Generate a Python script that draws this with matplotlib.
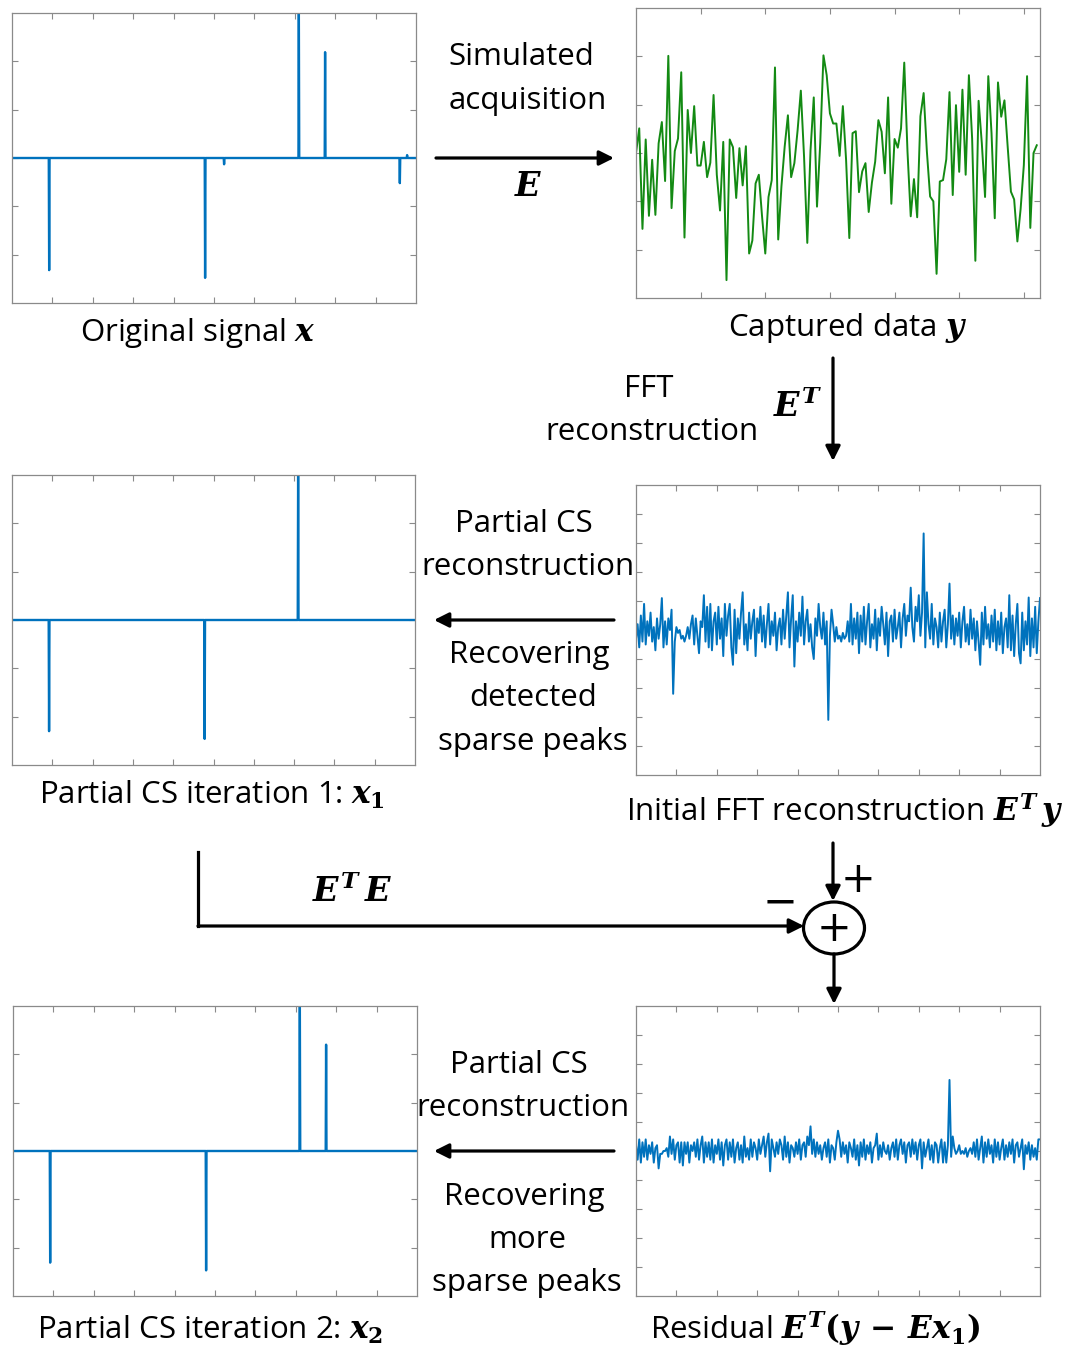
import numpy as np
import matplotlib
matplotlib.use('Agg')
import matplotlib.pyplot as plt
from matplotlib.patches import Ellipse

plt.rcParams['font.family'] = ['Open Sans', 'DejaVu Sans']
plt.rcParams['mathtext.fontset'] = 'custom'
plt.rcParams['mathtext.it'] = 'DejaVu Serif:bold:italic'
plt.rcParams['mathtext.rm'] = 'DejaVu Serif:bold'
plt.rcParams['mathtext.bf'] = 'DejaVu Serif:bold'

# sparse signals: spike positions (sample index out of 1000) and amplitudes
orig_pos = [92, 478, 525, 710, 775, 960, 978]
orig_amp = [-2.32, -2.48, -0.13, 3.0, 2.19, -0.52, 0.06]
iter1_pos = [92, 478, 710]
iter1_amp = [-2.3, -2.46, 3.0]
iter2_pos = [92, 478, 710, 775]
iter2_amp = [-2.31, -2.47, 3.0, 2.2]

# captured data y (125 samples)
captured = [
    0.0, 0.51, -1.57, 0.28, -1.30, -0.14, -1.28, 0.2, 0.64, -0.58,
    2.01, -1.14, 0.04, 0.3, 1.67, -1.75, 0.89, 0.0, 0.97, -0.26,
    -0.26, 0.23, -0.5, -0.2, 1.2, -0.45, -1.19, 0.23, -2.63, 0.28,
    0.12, -0.93, 0.1, -0.67, 0.14, -2.08, -1.81, -0.63, -0.45, -1.31,
    -2.08, -0.91, -0.56, 1.77, -1.79, -0.69, 0.13, 0.78, -0.5, -0.21,
    0.47, 1.29, -0.08, -1.86, 0.06, 1.15, -1.11, 0.2, 2.02, 1.61,
    0.82, 0.61, 0.61, -0.06, 0.97, -0.14, -1.76, 0.41, 0.45, -0.81,
    -0.38, -0.21, -1.22, -0.61, -0.18, 0.68, 0.44, -0.42, 1.15, -1.05,
    0.29, 0.11, 0.51, 1.87, 0.03, -1.31, -0.54, -1.33, 0.76, 1.24,
    0.03, -0.9, -1.0, -2.5, -0.59, -0.56, -0.13, 1.26, -0.87, 0.99,
    -0.39, 1.31, -0.45, 1.61, 0.3, -2.23, 1.08, 0.2, -0.91, 1.59,
    0.41, -1.35, 1.46, 0.75, 1.09, 0.13, -0.8, -0.96, -1.83, -1.16,
    -0.25, 1.59, -1.55, 0.0, 0.16,
]

# initial FFT reconstruction E^T y (every 4th sample)
fft_recon = [
    -0.3, 0.2, -0.6, 0.5, -0.4, 0.9, -0.5, 0.3, -0.2, 0.6,
    -0.4, 0.1, -0.7, 0.4, -0.3, 0.2, 1.1, -0.6, 0.3, -0.5,
    0.4, 0.0, 0.7, -2.2, -0.4, 0.1, -0.1, 0.0, -0.3, -0.2,
    -0.4, -0.2, 0.1, -0.3, 0.2, 0.5, -0.5, 0.4, -0.2, -0.8,
    0.3, 0.1, 1.2, -0.4, 0.8, -0.6, 0.9, -0.7, 0.3, 0.6,
    -0.5, 0.8, -0.3, 0.4, -0.9, 0.9, -0.2, 0.5, 0.9, -0.6,
    -1.2, 0.7, -0.8, 0.4, -0.3, 0.6, 1.3, -0.5, 0.2, -0.7,
    0.6, -0.3, 0.3, 0.7, -0.9, 0.4, -0.1, 0.8, -0.4, 0.5,
    -0.6, 0.2, 0.9, -0.5, 0.3, -0.2, 0.6, -0.7, 0.1, 0.4,
    -0.5, 0.7, -0.3, 0.5, 1.3, -0.6, 0.4, 1.2, -1.26, 0.3,
    -0.4, 0.6, -0.2, 1.15, -0.5, 0.3, 0.7, -0.4, 0.2, -0.6,
    -1.0, 0.4, -0.2, 0.9, 0.1, -0.3, 0.6, -0.5, 0.3, -3.1,
    -0.2, 0.7, 0.2, -0.4, 0.1, -0.3, -0.2, -0.4, -0.1, -0.3,
    -0.2, 0.3, -0.4, 0.9, -0.5, 0.4, -0.3, 0.6, -0.8, 0.5,
    -0.4, 0.8, -0.5, 0.3, 0.9, -0.6, 0.2, -0.3, 0.7, -0.7,
    0.4, -0.2, 0.8, 0.2, -0.5, 0.6, -0.9, 0.3, 0.5, -0.4,
    0.7, -0.3, 0.1, 0.6, -0.6, 0.4, 0.9, -0.2, 0.5, 0.3,
    1.46, 0.1, -0.4, 0.8, 0.3, 1.2, -0.2, 0.6, 3.33, -0.6,
    1.3, 0.2, -0.3, 0.9, -0.5, 0.4, 0.1, -0.6, 0.6, -0.4,
    0.3, 0.7, -0.6, 0.2, 1.6, -0.3, 0.5, -0.5, 0.4, -0.2,
    0.6, -0.6, 0.3, 0.8, -0.4, 0.2, -0.5, 0.7, -0.3, 0.4,
    -0.7, 0.3, -0.4, -1.2, 0.6, -0.5, 0.8, -0.3, 0.2, -0.6,
    0.5, -0.4, 0.7, -0.7, 0.3, -0.5, 0.6, -0.8, 0.1, 0.4,
    -0.6, 1.2, -0.7, 0.5, -0.9, 0.2, 0.9, -0.8, -1.15, 0.6,
    -0.7, 0.3, -0.5, 1.12, -0.9, 0.4, -0.6, 0.8, -0.8, 0.3,
    1.1,
]

# residual E^T(y - E x1) (every 4th sample)
residual = [
    0.2, -0.3, 0.4, -0.4, 0.3, -0.2, 0.4, -0.3, 0.2, -0.1,
    0.3, -0.4, 0.1, 0.2, -0.6, -0.1, -0.1, 0.0, 0.0, 0.1,
    -0.2, 0.5, -0.1, 0.4, -0.3, 0.2, 0.3, -0.4, 0.3, -0.5,
    0.3, -0.1, 0.3, -0.4, 0.2, 0.0, 0.3, -0.2, 0.4, -0.3,
    0.2, 0.5, -0.4, 0.3, -0.2, 0.3, -0.3, 0.4, -0.4, 0.2,
    -0.1, 0.4, -0.3, 0.3, -0.5, 0.2, 0.4, -0.3, 0.3, -0.2,
    0.4, -0.4, 0.1, 0.3, -0.3, 0.2, -0.4, 0.5, -0.2, 0.1,
    -0.3, 0.4, -0.2, 0.3, 0.1, -0.3, 0.4, -0.1, 0.2, 0.5,
    -0.2, 0.3, 0.6, -0.7, 0.4, 0.1, -0.2, 0.3, -0.1, 0.4,
    0.2, -0.3, 0.5, -0.2, 0.3, -0.4, 0.2, 0.1, -0.2, 0.3,
    -0.1, 0.4, -0.3, 0.2, 0.3, -0.2, 0.5, 0.2, 0.85, -0.1,
    0.4, -0.2, 0.3, -0.1, 0.2, -0.3, 0.1, 0.3, -0.2, 0.4,
    -0.4, 0.2, 0.1, -0.3, 0.3, 0.7, 0.4, -0.2, 0.3, -0.1,
    0.2, -0.4, 0.3, 0.1, -0.2, 0.4, -0.3, 0.2, -0.5, 0.3,
    -0.2, 0.4, -0.3, 0.2, -0.1, 0.3, -0.4, 0.1, 0.2, 0.6,
    -0.3, 0.2, -0.2, 0.3, 0.0, -0.1, 0.2, -0.3, 0.1, 0.3,
    -0.2, 0.4, -0.3, 0.2, 0.4, -0.1, 0.3, -0.4, 0.2, 0.3,
    -0.2, 0.4, -0.1, 0.3, -0.3, 0.2, 0.4, -0.6, 0.3, -0.2,
    0.1, 0.4, -0.3, 0.2, -0.4, 0.3, 0.2, -0.4, 0.1, 0.4,
    -0.4, 0.3, -0.4, 0.2, 2.45, -0.2, 0.5, 0.1, -0.1, 0.0,
    0.2, -0.1, 0.0, -0.1, 0.1, -0.2, 0.0, 0.1, -0.1, 0.3,
    -0.2, 0.4, -0.3, 0.1, 0.5, -0.4, 0.3, -0.2, 0.4, -0.1,
    0.2, -0.4, 0.4, -0.2, 0.3, -0.3, 0.1, 0.4, -0.3, 0.2,
    -0.2, 0.3, -0.1, 0.4, -0.4, 0.2, 0.3, -0.2, 0.1, 0.4,
    -0.63, 0.2, -0.1, 0.3, -0.3, 0.2, -0.2, 0.1, -0.3, 0.4,
    0.4,
]

BLUE = '#0072BD'
GREEN = '#138a13'
W, H = 1072, 1349

fig = plt.figure(figsize=(W / 100, H / 100), dpi=100)


def panel(left, top, right, bottom):
    # box given in pixels from the top-left corner
    ax = fig.add_axes([left / W, 1 - bottom / H, (right - left) / W, (bottom - top) / H])
    for s in ax.spines.values():
        s.set_color('#8a8a8a')
        s.set_linewidth(0.9)
    ax.tick_params(direction='in', length=4, width=0.8, color='#8a8a8a',
                   top=True, right=True, labelbottom=False, labelleft=False)
    return ax


def sparse(pos, amp):
    sig = np.zeros(1001)
    sig[pos] = amp
    return sig


def sparse_panel(ax, pos, amp):
    ax.plot(np.arange(1001), sparse(pos, amp), color=BLUE, lw=1.7)
    ax.set_xlim(0, 1000)
    ax.set_ylim(-3, 3)
    ax.set_xticks(np.arange(100, 1000, 100))
    ax.set_yticks([-2, -1, 0, 1, 2])


def noisy_panel(ax, vals):
    ax.plot(np.arange(len(vals)) * 4, vals, color=BLUE, lw=1.4)
    ax.set_xlim(0, 1000)
    ax.set_ylim(-5, 5)
    ax.set_xticks(np.arange(100, 1000, 100))
    ax.set_yticks(np.arange(-4, 5))


ax_a = panel(12, 13, 416, 303)
sparse_panel(ax_a, orig_pos, orig_amp)

ax_b = panel(636, 8, 1040, 298)
ax_b.plot(np.arange(len(captured)), captured, color=GREEN, lw=1.4)
ax_b.set_xlim(0, 125)
ax_b.set_ylim(-3, 3)
ax_b.set_xticks(np.arange(20, 125, 20))
ax_b.set_yticks([-2, -1, 0, 1, 2])

ax_c = panel(636, 485, 1040, 775)
noisy_panel(ax_c, fft_recon)

ax_d = panel(12, 475, 415, 765)
sparse_panel(ax_d, iter1_pos, iter1_amp)

ax_e = panel(636, 1006, 1040, 1296)
noisy_panel(ax_e, residual)

ax_f = panel(13, 1006, 417, 1296)
sparse_panel(ax_f, iter2_pos, iter2_amp)

# overlay in pixel coordinates for the labels and arrows
ov = fig.add_axes([0, 0, 1, 1])
ov.set_xlim(0, W)
ov.set_ylim(H, 0)
ov.axis('off')
ov.set_zorder(10)
ov.patch.set_visible(False)

FS = 22.5


def label(x, y, s, size=FS):
    ov.text(x, y, s, fontsize=size, ha='center', va='center')


def arrow(x0, y0, x1, y1):
    ov.annotate('', xy=(x1, y1), xytext=(x0, y0),
                arrowprops=dict(arrowstyle='-|>', lw=2.3, color='k',
                                mutation_scale=22, shrinkA=0, shrinkB=0))


label(521, 57, 'Simulated')
label(528, 101, 'acquisition')
arrow(436, 158, 614, 158)
label(528, 187, '$E$', size=24)
label(198, 333, 'Original signal $x$')
label(848, 328, 'Captured data $y$')

arrow(833, 358, 833, 461)
label(649, 389, 'FFT')
label(652, 432, 'reconstruction')
label(798, 408, '$E^T$', size=24)

label(524, 524, 'Partial CS')
label(528, 567, 'reconstruction')
arrow(614, 620, 434, 620)
label(529, 655, 'Recovering')
label(533, 698, 'detected')
label(533, 742, 'sparse peaks')
label(212, 795, 'Partial CS iteration 1: $x_1$')
label(845, 810, 'Initial FFT reconstruction $E^T\\,y$')

arrow(833, 843, 833, 901)
ov.text(858, 880, '+', fontsize=30, ha='center', va='center', family='DejaVu Sans')
ov.text(780, 903, '\u2212', fontsize=30, ha='center', va='center', family='DejaVu Sans')
ov.add_patch(Ellipse((834, 928), 61, 52, fill=False, lw=2.3, color='k'))
ov.text(834, 929, '+', fontsize=30, ha='center', va='center', family='DejaVu Sans')
ov.plot([198, 198], [852, 926], color='k', lw=2.3, solid_capstyle='projecting')
arrow(198, 926, 804, 926)
label(352, 893, '$E^T\\,E$', size=24)
arrow(834, 954, 834, 1004)

label(519, 1065, 'Partial CS')
label(523, 1108, 'reconstruction')
arrow(614, 1151, 434, 1151)
label(524, 1197, 'Recovering')
label(527, 1240, 'more')
label(527, 1283, 'sparse peaks')
label(210, 1330, 'Partial CS iteration 2: $x_2$')
label(815, 1328, 'Residual $E^T(y\\,-\\,Ex_1)$')

fig.savefig('out.png', dpi=100)
